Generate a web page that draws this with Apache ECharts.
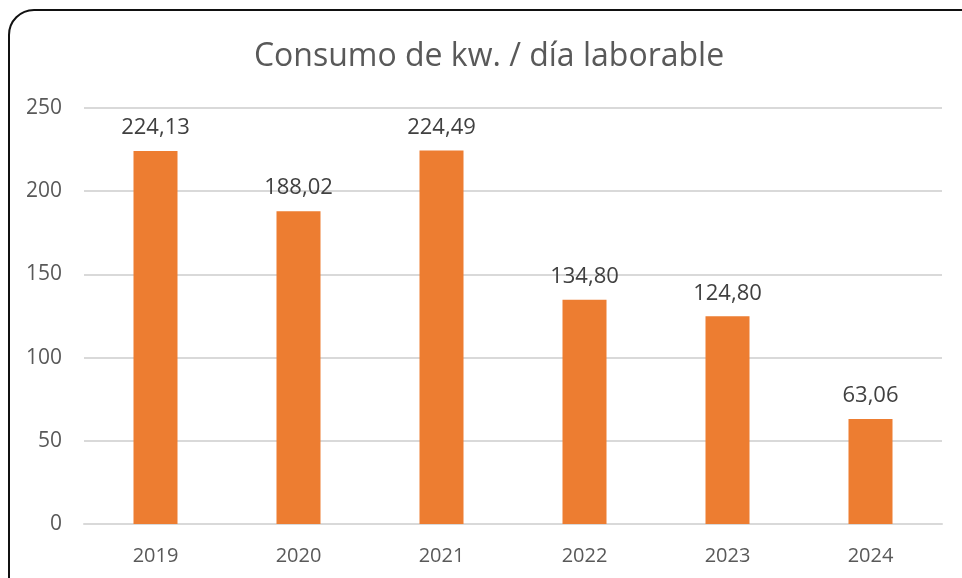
<!DOCTYPE html>
<html>
<head>
<meta charset="utf-8">
<script src="https://cdn.jsdelivr.net/npm/echarts@6/dist/echarts.min.js"></script>
<style>
  html, body { margin: 0; padding: 0; background: #fff; overflow: hidden; }
  #frame {
    position: absolute; left: 8px; top: 9px; width: 980px; height: 600px;
    border: 2px solid #111; border-radius: 26px; box-sizing: border-box;
  }
  #chart { position: absolute; left: 0; top: 0; width: 962px; height: 578px; }
</style>
</head>
<body>
<div id="frame"></div>
<div id="chart"></div>
<script>
// datos
const years = ["2019", "2020", "2021", "2022", "2023", "2024"];
const consumo = [224.13, 188.02, 224.49, 134.80, 124.80, 63.06];

const FONT = "'Open Sans', 'Noto Sans', sans-serif";

const chart = echarts.init(document.getElementById("chart"));
chart.setOption({
  animation: false,
  title: {
    text: "Consumo de kw. / día laborable",
    left: 484, top: 36, textAlign: "center",
    textStyle: { fontFamily: FONT, fontSize: 32, fontWeight: "normal", color: "#595959" }
  },
  grid: { left: 84, right: 20, top: 108, bottom: 54 },
  xAxis: {
    type: "category",
    data: years,
    axisTick: { show: false },
    axisLine: { lineStyle: { color: "#d9d9d9", width: 2 } },
    axisLabel: { fontFamily: FONT, fontSize: 20, color: "#595959", margin: 22 }
  },
  yAxis: {
    type: "value",
    min: 0, max: 250, interval: 50,
    axisLabel: { fontFamily: FONT, fontSize: 21, color: "#595959", margin: 22 },
    splitLine: { lineStyle: { color: "#d9d9d9", width: 2 } }
  },
  series: [{
    type: "bar",
    data: consumo,
    barWidth: 44,
    itemStyle: { color: "#ed7d31" },
    label: {
      show: true, position: "top", distance: 12,
      fontFamily: FONT, fontSize: 22, color: "#404040",
      formatter: p => p.value.toFixed(2).replace(".", ",")
    }
  }]
});
</script>
</body>
</html>
